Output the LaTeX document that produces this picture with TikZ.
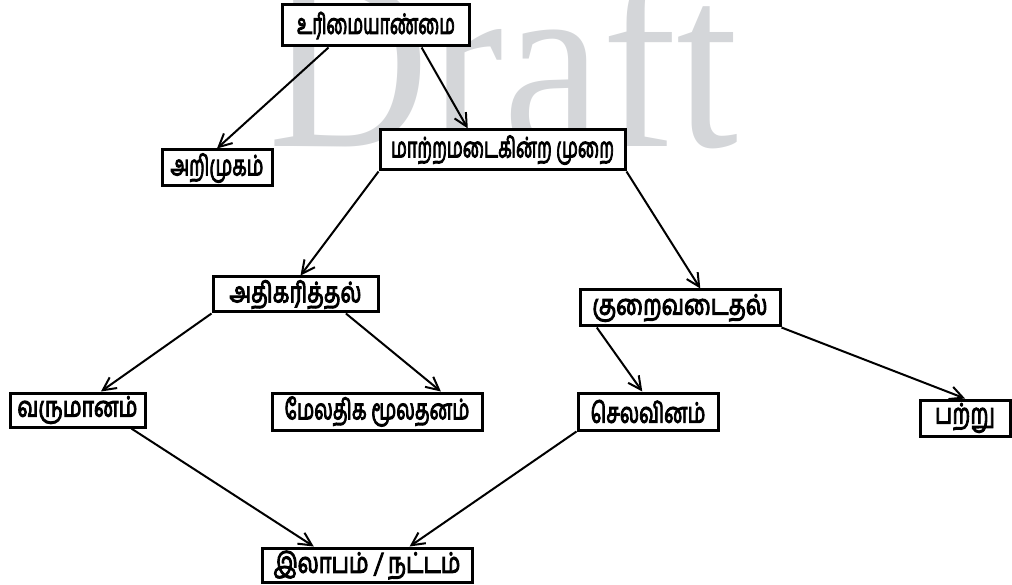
\documentclass[tikz,border=0pt]{standalone}
\usepackage{fontspec}
\usepackage{graphicx}
\newfontfamily\tamil[Script=Tamil,FakeBold=4]{Hind Madurai}
\newfontfamily\wmfont{Liberation Serif}
\usetikzlibrary{arrows.meta,calc}
\definecolor{wmgray}{RGB}{212,214,217}
\newcommand{\boxtxt}[2]{\resizebox{#1pt}{\height}{#2}}
\begin{document}
\begin{tikzpicture}[x=1pt,y=-1pt,
 box/.style={draw, line width=3pt, fill=white, inner sep=0pt,
   font=\tamil\fontsize{28}{30}\selectfont},
 arr/.style={-{Straight Barb[length=13pt,width=13pt,line width=2pt]}, line width=2pt}]
\useasboundingbox (0,0) rectangle (1012,585);
\node[anchor=base west, text=wmgray, inner sep=0pt, xscale=0.97, yscale=1.08,
  font=\wmfont\fontsize{230}{230}\selectfont] (wm) at (268,147) {Draft};
\node[box, minimum width=187pt, minimum height=41pt] (own) at (376,25.5) {\boxtxt{158}{உரிமையாண்மை}};
\node[box, minimum width=110pt, minimum height=36pt] (arimu) at (217,168) {\boxtxt{93}{அறிமுகம்}};
\node[box, minimum width=245pt, minimum height=40pt] (maatr) at (502.5,150) {\boxtxt{223}{மாற்றமடைகின்ற முறை}};
\node[box, minimum width=165pt, minimum height=35pt] (athi) at (295.5,294.5) {\boxtxt{132}{அதிகரித்தல்}};
\node[box, minimum width=200pt, minimum height=36pt] (kurai) at (680,308) {\boxtxt{175}{குறைவடைதல்}};
\node[box, minimum width=135pt, minimum height=34pt] (varu) at (77.5,410) {\boxtxt{120}{வருமானம்}};
\node[box, minimum width=210pt, minimum height=37pt] (mela) at (377,411.5) {\boxtxt{185}{மேலதிக மூலதனம்}};
\node[box, minimum width=140pt, minimum height=37pt] (sela) at (648,411.5) {\boxtxt{115}{செலவினம்}};
\node[box, minimum width=90pt, minimum height=36pt] (patru) at (965,418) {\boxtxt{60}{பற்று}};
\node[box, minimum width=210pt, minimum height=34pt] (ilabam) at (367,565) {\boxtxt{187}{இலாபம் / நட்டம்}};

\draw[arr] ($(own.south west)!0.25!(own.south east)$) -- (arimu.north);
\draw[arr] ($(own.south west)!0.74!(own.south east)$) -- ($(maatr.north west)!0.36!(maatr.north east)$);
\draw[arr] (maatr.south west) -- ($(athi.north west)!0.53!(athi.north east)$);
\draw[arr] (maatr.south east) -- ($(kurai.north west)!0.6!(kurai.north east)$);
\draw[arr] (athi.south west) -- ($(varu.north west)!0.67!(varu.north east)$);
\draw[arr] ($(athi.south west)!0.8!(athi.south east)$) -- ($(mela.north west)!0.8!(mela.north east)$);
\draw[arr] ($(kurai.south west)!0.09!(kurai.south east)$) -- ($(sela.north west)!0.46!(sela.north east)$);
\draw[arr] (kurai.south east) -- ($(patru.north west)!0.5!(patru.north east)$);
\draw[arr] ($(varu.south west)!0.89!(varu.south east)$) -- ($(ilabam.north west)!0.25!(ilabam.north east)$);
\draw[arr] (sela.south west) -- ($(ilabam.north west)!0.7!(ilabam.north east)$);
\end{tikzpicture}
\end{document}
